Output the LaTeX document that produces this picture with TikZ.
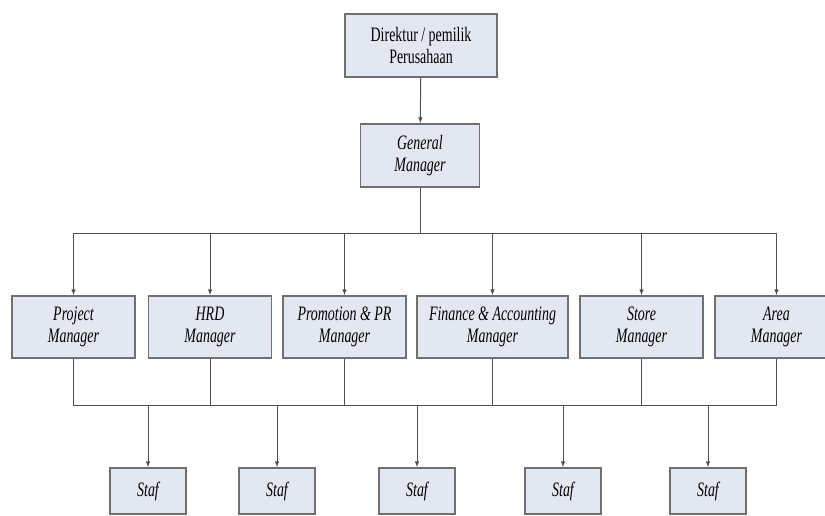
\documentclass[tikz,border=0pt]{standalone}
\usepackage{fontspec}
\setmainfont{Liberation Serif}[FakeStretch=0.68]
\usepackage{tikz}
\usetikzlibrary{arrows.meta, positioning}

\definecolor{boxfill}{RGB}{226,231,242}
\definecolor{boxline}{RGB}{112,112,112}
\definecolor{wire}{RGB}{80,80,80}

\begin{document}
\begin{tikzpicture}[
    x=1pt, y=-1pt,
    box/.style={rectangle, draw=boxline, line width=1.3pt, fill=boxfill,
        align=center, inner sep=0pt, font=\fontsize{20.5}{22}\selectfont\itshape},
    mgr/.style={box, minimum width=123pt, minimum height=62pt},
    staffbox/.style={box, minimum width=76pt, minimum height=46pt},
    link/.style={draw=wire, line width=1pt},
    arr/.style={link, -{Latex[length=6pt, width=4.5pt]}}
]
    \useasboundingbox (0,0) rectangle (825,515);

    \node[box, minimum width=152pt, minimum height=63pt, font=\fontsize{20.5}{22}\selectfont] (dir) at (421, 45.5) {Direktur / pemilik\\Perusahaan};
    \node[box, minimum width=119pt, minimum height=63pt] (gm) at (420, 155.5) {General\\Manager};

    \node[mgr] (pm) at (73.5, 327) {Project\\Manager};
    \node[mgr] (hrd) at (210, 327) {HRD\\Manager};
    \node[mgr] (promo) at (344.5, 327) {Promotion \& PR\\Manager};
    \node[mgr, minimum width=151pt] (fin) at (492.5, 327) {Finance \& Accounting\\Manager};
    \node[mgr] (store) at (641.5, 327) {Store\\Manager};
    \node[mgr] (area) at (776.5, 327) {Area\\Manager};

    \node[staffbox] (s1) at (148, 491) {Staf};
    \node[staffbox] (s2) at (277, 491) {Staf};
    \node[staffbox] (s3) at (417, 491) {Staf};
    \node[staffbox] (s4) at (563, 491) {Staf};
    \node[staffbox] (s5) at (708, 491) {Staf};

    \coordinate (bt) at (420, 233);
    \coordinate (bb) at (420, 405);

    \draw[arr] (dir) -- (gm);
    \draw[link] (gm) -- (bt);
    \draw[arr] (bt) -| (pm);
    \draw[arr] (bt) -| (hrd);
    \draw[arr] (bt) -| (promo);
    \draw[arr] (bt) -| (fin);
    \draw[arr] (bt) -| (store);
    \draw[arr] (bt) -| (area);

    \draw[link] (pm) |- (bb);
    \draw[link] (hrd) |- (bb);
    \draw[link] (promo) |- (bb);
    \draw[link] (fin) |- (bb);
    \draw[link] (store) |- (bb);
    \draw[link] (area) |- (bb);

    \draw[arr] (bb) -| (s1);
    \draw[arr] (bb) -| (s2);
    \draw[arr] (bb) -| (s3);
    \draw[arr] (bb) -| (s4);
    \draw[arr] (bb) -| (s5);
\end{tikzpicture}
\end{document}
